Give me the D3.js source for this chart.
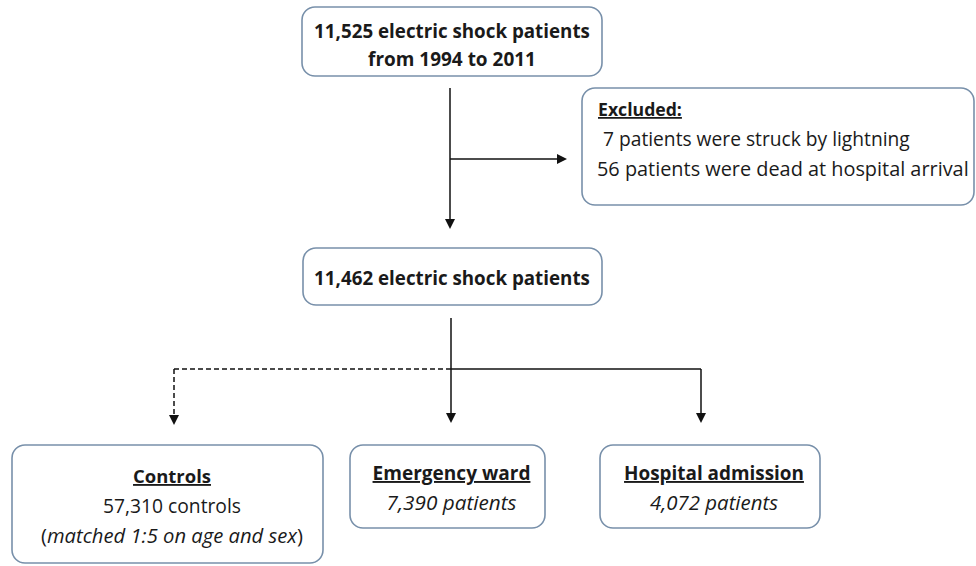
<!DOCTYPE html>
<html>
<head>
<meta charset="utf-8">
<script src="https://cdn.jsdelivr.net/npm/d3@7"></script>
<style>
  html, body { margin: 0; padding: 0; background: #fff; }
  svg { display: block; }
  text { font-family: "Open Sans", Lato, sans-serif; fill: #1a1a1a; }
</style>
</head>
<body>
<svg id="chart" width="976" height="566"></svg>
<script>
// ---- data ----
const studyYears = [1994, 2011];
const totalPatients = 11525;
const excludedReasons = ["were struck by lightning", "were dead at hospital arrival"];
const excludedCounts = [7, 56];
const includedPatients = 11462;
const controlCount = 57310;
const matchingRatio = "1:5";
const outcomeGroups = ["Emergency ward", "Hospital admission"];
const outcomeCounts = [7390, 4072];

const fmt = d3.format(",");
const svg = d3.select("#chart");
const BORDER = "#7890aa";

function box(x, y, w, h) {
  svg.append("rect").attr("x", x).attr("y", y).attr("width", w).attr("height", h)
    .attr("rx", 13).attr("ry", 13)
    .attr("fill", "#fff").attr("stroke", BORDER).attr("stroke-width", 1.6);
}
function line(x1, y1, x2, y2, dashed) {
  const l = svg.append("line").attr("x1", x1).attr("y1", y1).attr("x2", x2).attr("y2", y2)
    .attr("stroke", "#111").attr("stroke-width", 1.5);
  if (dashed) l.attr("stroke-dasharray", "5,3");
  return l;
}
function arrowHead(x, y, dir) {
  const s = 5, len = 10;
  let p;
  if (dir === "down") p = [[x - s, y - len], [x + s, y - len], [x, y]];
  else p = [[x - len, y - s], [x - len, y + s], [x, y]];
  svg.append("path").attr("d", d3.line()(p) + "Z").attr("fill", "#111");
}
function txt(x, y, anchor, parts, size, width) {
  const t = svg.append("text").attr("x", x).attr("y", y).attr("text-anchor", anchor)
    .attr("font-size", size || 18);
  parts.forEach(p => {
    const s = t.append("tspan").text(p.t);
    if (p.b) s.attr("font-weight", "bold");
    if (p.i) s.attr("font-style", "italic");
    if (p.u) s.style("text-decoration", "underline");
  });
  // fit text to the width measured in the reference
  if (width) {
    const w = t.node().getComputedTextLength();
    const f = (size || 18) * width / w;
    t.attr("font-size", f);
  }
  return t;
}

// ---- connectors ----
line(450, 88, 450, 222);
arrowHead(450, 229, "down");
line(450, 159, 560, 159);
arrowHead(567, 159, "right");

line(451, 318, 451, 416);
arrowHead(451, 423, "down");
line(174, 369, 451, 369, true);
line(451, 369, 701, 369);
line(174, 369, 174, 418, true);
arrowHead(174, 425, "down");
line(701, 369, 701, 416);
arrowHead(701, 423, "down");

// ---- boxes ----
box(302, 7, 300, 69);
txt(452, 38, "middle", [{t: fmt(totalPatients) + " electric shock patients", b: true}], 18, 276);
txt(452, 66, "middle", [{t: "from " + studyYears[0] + " to " + studyYears[1], b: true}], 18, 168);

box(582, 88, 392, 117);
txt(598, 116, "start", [{t: "Excluded:", b: true, u: true}], 18, 84);
excludedCounts.forEach((c, i) => {
  txt(i === 0 ? 603 : 597, 146 + i * 30, "start", [{t: c + " patients " + excludedReasons[i]}], 18, i === 0 ? 307 : 372);
});

box(303, 248, 299, 57);
txt(452, 285, "middle", [{t: fmt(includedPatients) + " electric shock patients", b: true}], 18, 276);

box(12, 445, 311, 118);
txt(172, 483, "middle", [{t: "Controls", b: true, u: true}], 18, 78);
txt(172, 513, "middle", [{t: fmt(controlCount) + " controls"}], 18, 138);
txt(172, 543, "middle", [{t: "("}, {t: "matched " + matchingRatio + " on age and sex", i: true}, {t: ")"}], 18, 262);

const outBoxes = [[350, 195], [600, 220]];
const outW = [[158, 130], [180, 128]];
outcomeGroups.forEach((g, i) => {
  const [x, w] = outBoxes[i];
  box(x, 445, w, 83);
  txt(x + w / 2 + 4, 480, "middle", [{t: g, b: true, u: true}], 18, outW[i][0]);
  txt(x + w / 2 + 4, 510, "middle", [{t: fmt(outcomeCounts[i]) + " patients", i: true}], 18, outW[i][1]);
});
</script>
</body>
</html>
